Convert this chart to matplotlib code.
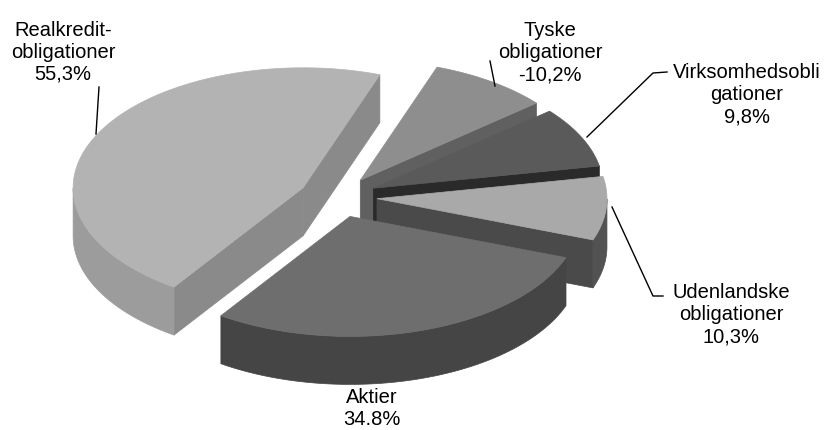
import numpy as np
import matplotlib.pyplot as plt

# data
labels = ['Realkredit-\nobligationer', 'Aktier', 'Udenlandske\nobligationer',
          'Virksomhedsobli\ngationer', 'Tyske\nobligationer']
values = [55.3, 34.8, 10.3, 9.8, -10.2]
pct_text = ['55,3%', '34.8%', '10,3%', '9,8%', '-10,2%']

# colours: top face, cut (radial) face, outer wall
top_colors = ['#b3b3b3', '#6e6e6e', '#a9a9a9', '#5a5a5a', '#8e8e8e']
cut_colors = ['#8a8a8a', '#3a3a3a', '#4a4a4a', '#2a2a2a', '#606060']
wall_colors = ['#9c9c9c', '#454545', '#525252', '#323232', '#6a6a6a']

# layout of the fake 3D pie (pixel units)
W, H = 828, 431
CX, CY = 338, 198
RX, RY = 230, 120
DEPTH = 48
EXPLODE = 0.17
START = 70.5

# text anchors and leader lines (pixel units)
label_xy = [(63, 52), (372, 409), (731, 315), (747, 95), (550, 53)]
leaders = [
    [(99, 88), (96, 135)],
    None,
    [(663, 297), (653, 297), (612, 208)],
    [(667, 73), (653, 74), (587, 138)],
    [(490, 62), (495, 87)],
]


def ring(ox, oy, th, dz=0.0):
    t = np.radians(th)
    return np.column_stack([ox + RX * np.cos(t), oy - RY * np.sin(t) + dz])


fig = plt.figure(figsize=(W / 100, H / 100), dpi=100)
ax = fig.add_axes([0, 0, 1, 1])
ax.set_xlim(0, W)
ax.set_ylim(H, 0)
ax.axis('off')

sizes = np.abs(values)
spans = sizes / sizes.sum() * 360
starts = START + np.concatenate([[0], np.cumsum(spans)[:-1]])
mids = starts + spans / 2

# paint back slices first
order = np.argsort(-np.sin(np.radians(mids)))
for i in order:
    th1, th2 = starts[i], starts[i] + spans[i]
    m = np.radians(mids[i])
    ox = CX + EXPLODE * RX * np.cos(m)
    oy = CY - EXPLODE * RY * np.sin(m)
    apex = np.array([[ox, oy]])

    # cut faces, drawn only when they face the viewer
    for th, normal in ((th1, th1 - 90), (th2, th2 + 90)):
        if np.sin(np.radians(normal)) < 0:
            e = ring(ox, oy, [th])[0]
            quad = np.array([[ox, oy], e, e + [0, DEPTH], [ox, oy + DEPTH]])
            ax.fill(quad[:, 0], quad[:, 1], color=cut_colors[i], lw=0.5, ec=cut_colors[i])

    # front part of the outer wall
    a = np.linspace(th1, th2, 200)
    vis = np.sin(np.radians(a)) < 0
    if vis.any():
        idx = np.where(vis)[0]
        # split into contiguous runs
        runs = np.split(idx, np.where(np.diff(idx) > 1)[0] + 1)
        for r in runs:
            aa = a[r]
            upper = ring(ox, oy, aa)
            lower = ring(ox, oy, aa[::-1], DEPTH)
            poly = np.vstack([upper, lower])
            ax.fill(poly[:, 0], poly[:, 1], color=wall_colors[i], lw=0.5, ec=wall_colors[i])

    # top face
    top = np.vstack([apex, ring(ox, oy, a)])
    ax.fill(top[:, 0], top[:, 1], color=top_colors[i], lw=0.5, ec=top_colors[i])

for i, (x, y) in enumerate(label_xy):
    ax.text(x, y, labels[i] + '\n' + pct_text[i], ha='center', va='center',
            fontsize=14.5, family='Liberation Sans', linespacing=1.2, color='black')
    if leaders[i] is not None:
        pts = np.array(leaders[i])
        ax.plot(pts[:, 0], pts[:, 1], color='black', lw=1)

fig.savefig('out.png', dpi=100)
